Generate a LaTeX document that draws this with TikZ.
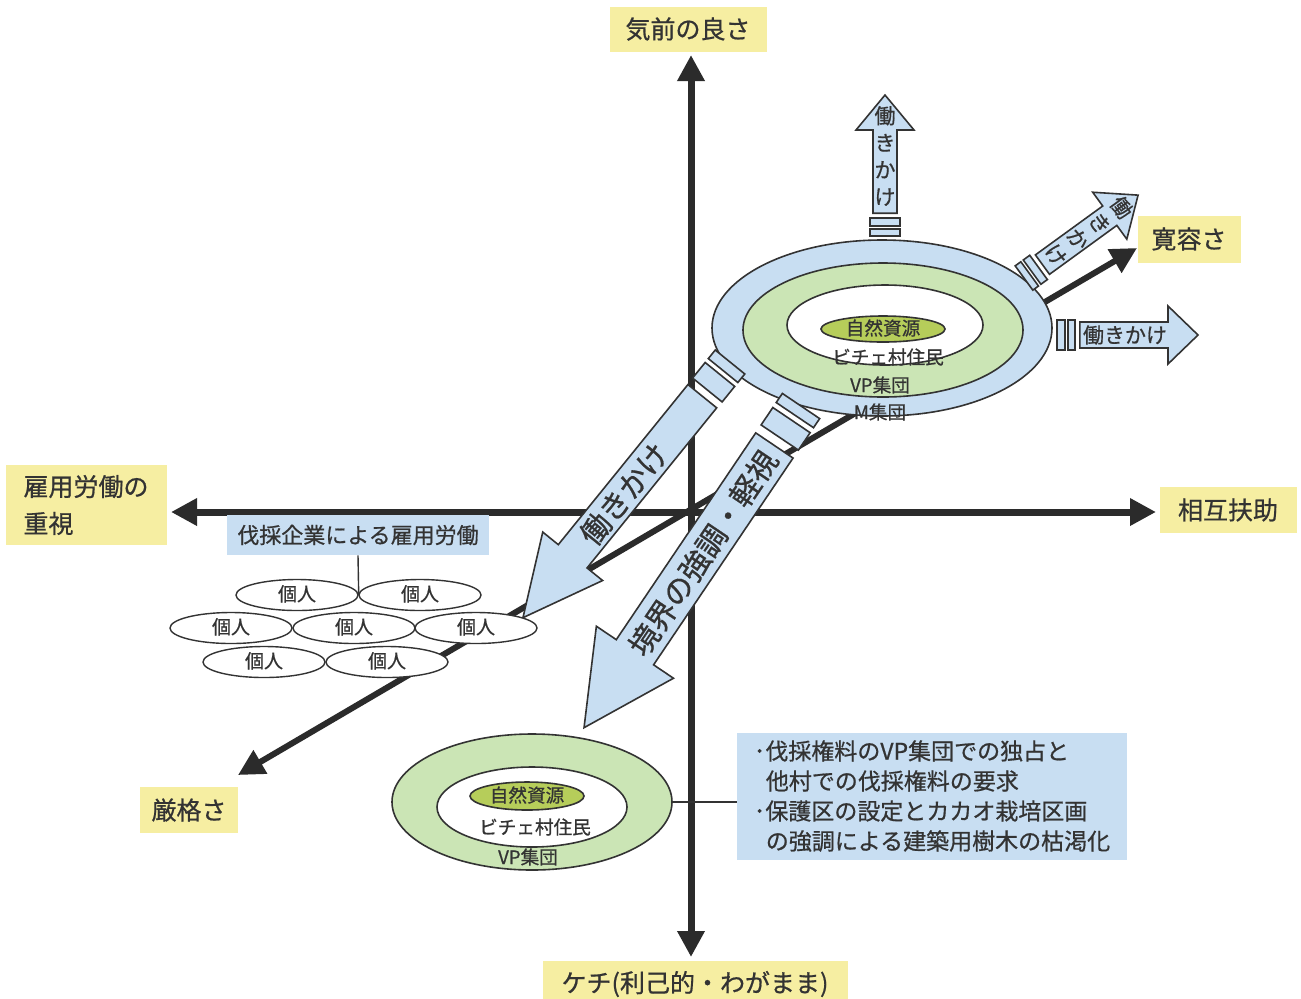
\documentclass[tikz,border=0pt]{standalone}
\usepackage{fontspec}
\setmainfont{Noto Sans CJK JP}[FakeBold=0.7]
\usetikzlibrary{shapes.geometric,arrows.meta}
\definecolor{ylw}{HTML}{F6EEA2}
\definecolor{lblue}{HTML}{C8DEF2}
\definecolor{lgreen}{HTML}{CBE5B5}
\definecolor{olivec}{HTML}{B6CD5A}
\definecolor{ink}{HTML}{333333}
\definecolor{axisc}{HTML}{2B2B2B}
% #1 scope options, #2 total length, #3 shaft width, #4 stripe width,
% #5 head length, #6 head width, #7 stripe A, #8 stripe B, #9 gap
\newcommand\stripedarrow[9]{%
  \begin{scope}[#1]
    \draw[arrbody] (0,-#4/2) rectangle (#7,#4/2);
    \draw[arrbody] (#7+#9,-#4/2) rectangle (#7+#9+#8,#4/2);
    \draw[arrbody] (#7+2.6*#9+#8,-#3/2) -- (#2-#5,-#3/2) -- (#2-#5,-#6/2) -- (#2,0)
      -- (#2-#5,#6/2) -- (#2-#5,#3/2) -- (#7+2.6*#9+#8,#3/2) -- cycle;
  \end{scope}}
\begin{document}
\begin{tikzpicture}[x=0.5pt,y=-0.5pt,
  lbl/.style={fill=ylw, text=ink, inner sep=0pt, font=\fontsize{12.5pt}{18.5pt}\selectfont},
  bluebox/.style={fill=lblue, text=ink, inner sep=0pt},
  axisline/.style={draw=axisc, line width=3.5pt,
     {Triangle[length=13pt,width=13pt]}-{Triangle[length=13pt,width=13pt]}},
  diagline/.style={draw=axisc, line width=3pt,
     {Triangle[length=13pt,width=13pt]}-{Triangle[length=13pt,width=13pt]}},
  ring/.style={ellipse, draw=ink, line width=0.8pt, inner sep=0pt},
  etxt/.style={text=ink, inner sep=0pt, font=\fontsize{9.3pt}{11pt}\selectfont},
  kojin/.style={ellipse, draw=ink, fill=white, line width=0.7pt, inner sep=0pt,
     minimum width=61pt, minimum height=15.5pt, text height=7pt, text depth=1pt,
     text=ink, font=\fontsize{9.5pt}{11pt}\selectfont},
  arrbody/.style={draw=ink, fill=lblue, line width=0.8pt, line join=miter},
  bigtxt/.style={text=ink, inner sep=0pt, font=\fontsize{15pt}{18pt}\selectfont},
  smtxt/.style={text=ink, inner sep=0pt, font=\fontsize{10.5pt}{13.5pt}\selectfont},
  thinline/.style={draw=ink, line width=0.7pt}]
\useasboundingbox (0,0) rectangle (1301,998);
\fill[white] (0,0) rectangle (1301,998);

% axis labels
\node[lbl, minimum width=78.5pt, minimum height=22.5pt] (kimae) at (688,29) {気前の良さ};
\node[lbl, minimum width=51.5pt, minimum height=23.5pt] (kanyo) at (1189,239) {寛容さ};
\node[lbl, minimum width=68.5pt, minimum height=23pt] (sogo) at (1228,510) {相互扶助};
\node[lbl, minimum width=80.5pt, minimum height=40pt, align=left] (koyo) at (86,505) {雇用労働の\\重視};
\node[lbl, minimum width=49pt, minimum height=23pt] (genkaku) at (189,810) {厳格さ};
\node[lbl, minimum width=152.5pt, minimum height=23pt] (kechi) at (695,984) {ケチ(利己的・わがまま)};

% axes
\coordinate (atop) at (691,55);
\coordinate (abot) at (691,957);
\coordinate (aleft) at (171,512);
\coordinate (aright) at (1156,512);
\coordinate (adl) at (238,775);
\coordinate (aur) at (1137,248);
\draw[diagline] (adl) -- (aur);
\draw[axisline] (atop) -- (abot);
\draw[axisline] (aleft) -- (aright);

% upper ring group
\node[ring, fill=lblue, minimum width=170pt, minimum height=88pt] (uout) at (882,328) {};
\node[ring, fill=lgreen, minimum width=140pt, minimum height=67pt] (umid) at (883,330) {};
\node[ring, fill=white, minimum width=98pt, minimum height=40pt] (uin) at (885,325) {};
\node[ring, fill=olivec, minimum width=62pt, minimum height=13pt] (ucore) at (883,329) {};
\node[etxt] (ures) at (883,328) {自然資源};
\node[etxt] (uvil) at (888,357) {ビチェ村住民};
\node[etxt] (uvp) at (880,385) {VP集団};
\node[etxt] (um) at (880,412) {M集団};

% small striped arrows
\stripedarrow{shift={(885,236)},rotate=90}{141}{24}{30}{35}{58}{7}{8}{3}
\stripedarrow{shift={(1024,278)},rotate=36}{141}{24}{30}{35}{58}{7}{8}{3}
\stripedarrow{shift={(1057,335)},rotate=0}{141}{26}{30}{30}{58}{8}{7}{3}
\node[smtxt, align=center] (sa1) at (885,156) {働\\き\\か\\け};
\node[smtxt, align=center, rotate=-54] (sa2) at (1089,231) {働\\き\\か\\け};
\node[smtxt] (sa3) at (1125,335) {働きかけ};

% big striped arrows
\stripedarrow{shift={(730,362)},rotate=231}{329}{37}{38}{79}{77}{11}{20}{5}
\stripedarrow{shift={(801,406)},rotate=236}{388}{45}{45}{91}{93}{11}{21}{6}
\node[bigtxt, rotate=51] (ba1) at (624,494) {働きかけ};
\node[bigtxt, rotate=56] (ba2) at (703,553) {境界の強調・軽視};

% employment box and individuals
\node[bluebox, minimum width=131pt, minimum height=20pt,
      font=\fontsize{11pt}{13pt}\selectfont] (kigyo) at (358,535) {伐採企業による雇用労働};
\node[kojin] (k1) at (297,595) {個人};
\node[kojin] (k2) at (420,595) {個人};
\node[kojin] (k3) at (231,628) {個人};
\node[kojin] (k4) at (354,628) {個人};
\node[kojin] (k5) at (476,628) {個人};
\node[kojin] (k6) at (264,662) {個人};
\node[kojin] (k7) at (387,662) {個人};
\draw[thinline] (kigyo.south) -- (k1.east);

% lower ring group
\node[ring, fill=lgreen, minimum width=140pt, minimum height=68pt] (lout) at (532,802) {};
\node[ring, fill=white, minimum width=95pt, minimum height=40pt] (lin) at (532,807) {};
\node[ring, fill=olivec, minimum width=57pt, minimum height=14pt] (lcore) at (527,796) {};
\node[etxt] (lres) at (527,795) {自然資源};
\node[etxt] (lvil) at (535,827) {ビチェ村住民};
\node[etxt] (lvp) at (528,857) {VP集団};

% info box
\node[bluebox, minimum width=195pt, minimum height=63.5pt, align=left,
      font=\fontsize{11.5pt}{15pt}\selectfont] (info) at (932,796)
  {･伐採権料のVP集団での独占と\\\hspace*{6pt}他村での伐採権料の要求\\･保護区の設定とカカオ栽培区画\\\hspace*{6pt}の強調による建築用樹木の枯渇化};
\draw[thinline] (lout.east) -- (lout.east -| info.west);
\end{tikzpicture}
\end{document}
